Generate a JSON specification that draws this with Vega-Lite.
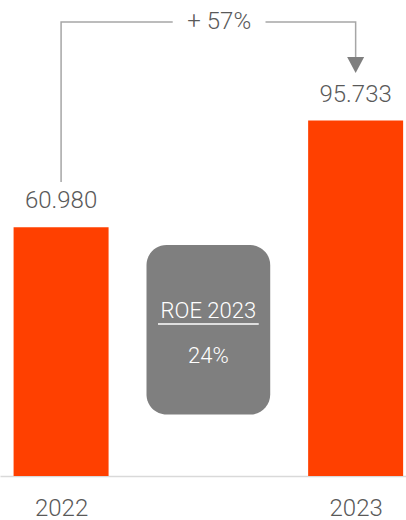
{
  "$schema": "https://vega.github.io/schema/vega-lite/v6.json",
  "width": 406,
  "height": 476,
  "autosize": "none",
  "padding": {"left": 0, "right": 0, "top": 0, "bottom": 44},
  "background": "white",
  "config": {
    "view": {"stroke": null},
    "font": "Roboto",
    "axis": {
      "domainColor": "#d9d9d9",
      "domainWidth": 1.5,
      "ticks": false,
      "tickSize": 0,
      "grid": false,
      "labelFont": "Roboto",
      "labelFontWeight": 300,
      "labelFontSize": 24,
      "labelColor": "#595959",
      "labelPadding": 39,
      "labelBaseline": "alphabetic",
      "labelFlush": false,
      "title": null
    }
  },
  "datasets": {
    "bars": [
      {"year": 2022, "value": 60.98},
      {"year": 2023, "value": 95.733}
    ],
    "bracket": [
      {"seg": "a", "ord": 1, "x": 2022, "y": 75.7},
      {"seg": "a", "ord": 2, "x": 2022, "y": 127.8},
      {"seg": "a", "ord": 3, "x": 2022.379, "y": 127.8},
      {"seg": "b", "ord": 1, "x": 2022.694, "y": 127.8},
      {"seg": "b", "ord": 2, "x": 2023, "y": 127.8},
      {"seg": "b", "ord": 3, "x": 2023, "y": 116.4}
    ],
    "arrow": [{"x": 2023, "y": 113.8}],
    "growth": [{"x": 2022.537, "y": 127.8, "text": "+ 57%"}],
    "box": [{"x": 2022.29, "x2": 2022.71, "y": 0, "y2": 55.2}],
    "boxText": [
      {"x": 2022.5, "y": 31.45, "text": "ROE 2023"},
      {"x": 2022.5, "y": 16.8, "text": "24%"}
    ],
    "underline": [{"x": 2022.329, "x2": 2022.671, "y": 29.5}]
  },
  "layer": [
    {
      "data": {"name": "bars"},
      "mark": {"type": "bar", "width": 95, "color": "#ff4000"},
      "encoding": {
        "x": {
          "field": "year",
          "type": "quantitative",
          "scale": {"domain": [2021.8096, 2023.154], "nice": false, "zero": false},
          "axis": {"values": [2022, 2023], "format": "d"}
        },
        "y": {
          "field": "value",
          "type": "quantitative",
          "scale": {"domain": [-20, 135], "nice": false, "zero": false},
          "axis": null
        },
        "y2": {"datum": -20}
      }
    },
    {
      "data": {"name": "bars"},
      "mark": {"type": "text", "font": "Roboto", "fontWeight": 300, "fontSize": 24, "color": "#595959", "baseline": "alphabetic", "align": "center", "dy": -19},
      "encoding": {
        "x": {"field": "year", "type": "quantitative"},
        "y": {"field": "value", "type": "quantitative"},
        "text": {"field": "value", "type": "quantitative", "format": ".3f"}
      }
    },
    {
      "data": {"name": "bracket"},
      "mark": {"type": "line", "color": "#a6a6a6", "strokeWidth": 1.5, "interpolate": "linear"},
      "encoding": {
        "x": {"field": "x", "type": "quantitative"},
        "y": {"field": "y", "type": "quantitative"},
        "detail": {"field": "seg"},
        "order": {"field": "ord", "type": "quantitative"}
      }
    },
    {
      "data": {"name": "arrow"},
      "mark": {"type": "point", "shape": "M-1,-0.94L1,-0.94L0,0.94Z", "size": 289, "filled": true, "color": "#7f7f7f", "opacity": 1},
      "encoding": {
        "x": {"field": "x", "type": "quantitative"},
        "y": {"field": "y", "type": "quantitative"}
      }
    },
    {
      "data": {"name": "growth"},
      "mark": {"type": "text", "font": "Roboto", "fontWeight": 300, "fontSize": 24, "color": "#595959", "baseline": "middle", "align": "center"},
      "encoding": {
        "x": {"field": "x", "type": "quantitative"},
        "y": {"field": "y", "type": "quantitative"},
        "text": {"field": "text"}
      }
    },
    {
      "data": {"name": "box"},
      "mark": {"type": "rect", "color": "#7f7f7f", "cornerRadius": 20},
      "encoding": {
        "x": {"field": "x", "type": "quantitative"},
        "x2": {"field": "x2"},
        "y": {"field": "y", "type": "quantitative"},
        "y2": {"field": "y2"}
      }
    },
    {
      "data": {"name": "boxText"},
      "mark": {"type": "text", "font": "Roboto", "fontWeight": 300, "fontSize": 22, "color": "white", "baseline": "alphabetic", "align": "center"},
      "encoding": {
        "x": {"field": "x", "type": "quantitative"},
        "y": {"field": "y", "type": "quantitative"},
        "text": {"field": "text"}
      }
    },
    {
      "data": {"name": "underline"},
      "mark": {"type": "rule", "color": "white", "strokeWidth": 1.5},
      "encoding": {
        "x": {"field": "x", "type": "quantitative"},
        "x2": {"field": "x2"},
        "y": {"field": "y", "type": "quantitative"}
      }
    }
  ]
}
